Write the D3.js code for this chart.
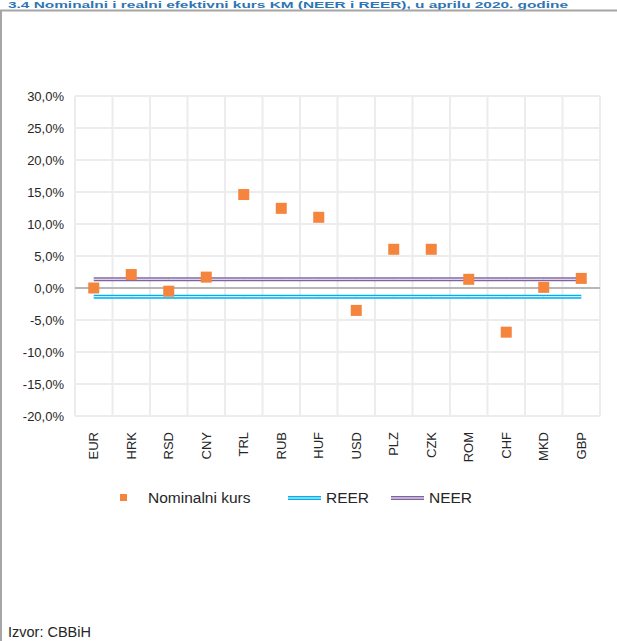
<!DOCTYPE html>
<html><head><meta charset="utf-8">
<script src="https://cdn.jsdelivr.net/npm/d3@7"></script>
<style>
html,body{margin:0;padding:0;background:#fff;}
svg{display:block;}
</style></head>
<body>
<svg id="c" width="617" height="641"></svg>
<script>
const categories = ["EUR","HRK","RSD","CNY","TRL","RUB","HUF","USD","PLZ","CZK","ROM","CHF","MKD","GBP"];
const nominalValues = [0.0, 2.1, -0.5, 1.7, 14.6, 12.45, 11.05, -3.5, 6.05, 6.05, 1.36, -6.9, 0.1, 1.5];
const reerValues = categories.map(() => -1.36);
const neerValues = categories.map(() => 1.37);
const yTicks = [30,25,20,15,10,5,0,-5,-10,-15,-20];
const titleText = "3.4 Nominalni i realni efektivni kurs KM (NEER i REER), u aprilu 2020. godine";
const sourceText = "Izvor: CBBiH";

const FONT = "'Liberation Sans Narrow','Arial Narrow','Liberation Sans',sans-serif";
const svg = d3.select("#c");
const W = 617, H = 641;
const m = {left:75, top:96};
const pw = 600 - 75, ph = 416 - 96;

const loc = d3.formatLocale({decimal:",", thousands:".", grouping:[3], currency:["",""], minus:"-"});
const fmt = v => loc.format(".1f")(v) + "%";

// frame + title strip
svg.append("text").attr("x",8).attr("y",8).attr("font-family","'Liberation Sans',sans-serif")
  .attr("font-weight","bold").attr("font-size",9).attr("fill","#2e75b6")
  .attr("textLength",560).attr("lengthAdjust","spacingAndGlyphs").text(titleText);
svg.append("line").attr("x1",0).attr("x2",W).attr("y1",10.5).attr("y2",10.5).attr("stroke","#a6a6a6").attr("stroke-width",2);
svg.append("line").attr("x1",1).attr("x2",1).attr("y1",10).attr("y2",H).attr("stroke","#a6a6a6").attr("stroke-width",2);

const g = svg.append("g").attr("transform",`translate(${m.left},${m.top})`);
const x = d3.scaleBand().domain(categories).range([0,pw]);
const y = d3.scaleLinear().domain([-20,30]).range([ph,0]);

// gridlines
g.append("g").selectAll("line").data(yTicks).join("line")
  .attr("x1",0).attr("x2",pw).attr("y1",d=>y(d)).attr("y2",d=>y(d))
  .attr("stroke","#ececec").attr("stroke-width",2);
const vx = categories.map(c=>x(c)).concat([pw]);
g.append("g").selectAll("line").data(vx).join("line")
  .attr("x1",d=>d).attr("x2",d=>d).attr("y1",0).attr("y2",ph)
  .attr("stroke","#ececec").attr("stroke-width",2);

// zero line
g.append("line").attr("x1",0).attr("x2",pw).attr("y1",y(0)).attr("y2",y(0))
  .attr("stroke","#a6a6a6").attr("stroke-width",1.5);

// y axis labels
const yAxis = d3.axisLeft(y).tickValues(yTicks).tickFormat(fmt).tickSize(0).tickPadding(11);
const ya = g.append("g").call(yAxis);
ya.select(".domain").remove();
ya.selectAll("text").attr("font-family",FONT).attr("font-size",13).attr("fill","#262626");

// x axis labels
const xAxis = d3.axisBottom(x).tickSize(0).tickPadding(0);
const xa = g.append("g").attr("transform",`translate(0,${ph})`).call(xAxis);
xa.select(".domain").remove();
xa.selectAll("text").attr("font-family",FONT).attr("font-size",13).attr("fill","#262626")
  .attr("transform","rotate(-90)").attr("text-anchor","end").attr("x",-16).attr("y",0).attr("dy","0.35em");

const cx = c => x(c) + x.bandwidth()/2;
function dbl(vals, c1){
  const ln = d3.line().x((d,i)=>cx(categories[i])).y(d=>y(d));
  g.append("path").datum(vals).attr("d",ln).attr("fill","none").attr("stroke",c1).attr("stroke-width",4);
  g.append("path").datum(vals).attr("d",ln).attr("fill","none").attr("stroke","#ffffff").attr("stroke-width",1);
}
dbl(reerValues,"#00b0f0");
dbl(neerValues,"#8064a2");

// markers
const ms = 11;
g.append("g").selectAll("rect").data(nominalValues).join("rect")
  .attr("x",(d,i)=>cx(categories[i])-ms/2).attr("y",d=>y(d)-ms/2)
  .attr("width",ms).attr("height",ms).attr("fill","#f5843c");

// legend
const lg = svg.append("g").attr("font-family",FONT).attr("font-size",15.5).attr("fill","#262626");
lg.append("rect").attr("x",120).attr("y",494).attr("width",7).attr("height",7).attr("fill","#f5843c");
lg.append("text").attr("x",148).attr("y",503).text("Nominalni kurs");
function legLine(x1,col,label){
  lg.append("line").attr("x1",x1).attr("x2",x1+33).attr("y1",498).attr("y2",498).attr("stroke",col).attr("stroke-width",4);
  lg.append("line").attr("x1",x1).attr("x2",x1+33).attr("y1",498).attr("y2",498).attr("stroke","#fff").attr("stroke-width",1);
  lg.append("text").attr("x",x1+38).attr("y",503).text(label);
}
legLine(288,"#00b0f0","REER");
legLine(391,"#8064a2","NEER");

svg.append("text").attr("x",8).attr("y",637).attr("font-family",FONT).attr("font-size",14.5)
  .attr("fill","#262626").text(sourceText);
</script>
</body></html>
